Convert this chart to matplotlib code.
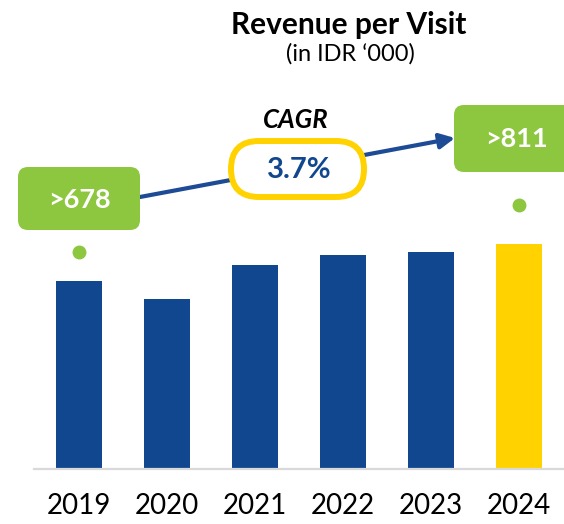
import matplotlib
matplotlib.use("Agg")
import matplotlib.pyplot as plt
from matplotlib.patches import FancyBboxPatch, FancyArrowPatch

plt.rcParams['font.family'] = ['Lato', 'DejaVu Sans']

# ---- data ----
years = ["2019", "2020", "2021", "2022", "2023", "2024"]
values = [678, 612, 737, 773, 784, 811]
bar_colors = ["#10478E", "#10478E", "#10478E", "#10478E", "#10478E", "#FFD200"]
cagr_label = "3.7%"
title = "Revenue per Visit"
subtitle = "(in IDR \u2018000)"

BLUE = "#10478E"
GREEN = "#8DC63F"
YELLOW = "#FFD200"
ARROW = "#1E4B96"

W, H = 564, 524
fig = plt.figure(figsize=(W / 100, H / 100), dpi=100)

# main bar axes
ax = fig.add_axes([34 / W, 55 / H, 530 / W, 469 / H])
x = list(range(len(years)))
ax.bar(x, values, width=0.52, color=bar_colors, zorder=2)
ax.set_xlim(-0.507, 5.51)
ax.set_ylim(0, 469 * 678 / 188)
ax.set_xticks(x)
ax.set_xticklabels(years, fontsize=20, color="black")
ax.tick_params(axis="x", length=0, pad=17)
ax.set_yticks([])
for s in ["top", "right", "left"]:
    ax.spines[s].set_visible(False)
ax.spines["bottom"].set_color("#D9D9D9")
ax.spines["bottom"].set_linewidth(1.6)
ax.patch.set_alpha(0)

# green dots above first and last bars
ypx = 678 / 188
ax.plot([0], [(469 - 252) * ypx], "o", color=GREEN, markersize=9, zorder=3, clip_on=False)
ax.plot([5], [(469 - 205) * ypx], "o", color=GREEN, markersize=9, zorder=3, clip_on=False)

# overlay in pixel coordinates for annotations
ov = fig.add_axes([0, 0, 1, 1])
ov.set_xlim(0, W)
ov.set_ylim(H, 0)
ov.axis("off")
ov.patch.set_alpha(0)

# titles
ov.text(349, 25, title, ha="center", va="center", fontsize=21.5, fontweight="bold", color="black")
ov.text(350, 54, subtitle, ha="center", va="center", fontsize=17, color="black")

# arrow
arr = FancyArrowPatch((140, 197), (455, 138), arrowstyle="-|>,head_length=0.9,head_width=0.45",
                      mutation_scale=10, color=ARROW, lw=3, zorder=1, shrinkA=0, shrinkB=0)
ov.add_patch(arr)

# green value boxes
left_box = FancyBboxPatch((18, 167), 122, 63, boxstyle="round,pad=0,rounding_size=10",
                          facecolor=GREEN, edgecolor="none", zorder=2)
ov.add_patch(left_box)
ov.text(79, 200, f">{values[0]}", ha="center", va="center", fontsize=19.5, fontweight="bold", color="white", zorder=3)

right_box = FancyBboxPatch((454, 105), 124, 67, boxstyle="round,pad=0,rounding_size=10",
                           facecolor=GREEN, edgecolor="none", zorder=2, clip_on=True)
ov.add_patch(right_box)
ov.text(517, 139, f">{values[-1]}", ha="center", va="center", fontsize=19.5, fontweight="bold", color="white", zorder=3)

# CAGR pill
pill = FancyBboxPatch((231, 141), 133, 56, boxstyle="round,pad=0,rounding_size=28",
                      facecolor="white", edgecolor=YELLOW, lw=4.3, zorder=2)
ov.add_patch(pill)
ov.text(299, 170, cagr_label, ha="center", va="center", fontsize=21, fontweight="bold", color=BLUE, zorder=3)
ov.text(296, 120, "CAGR", ha="center", va="center", fontsize=18.5, fontweight="bold", style="italic", color="black", zorder=3)

fig.savefig("out.png", dpi=100)
